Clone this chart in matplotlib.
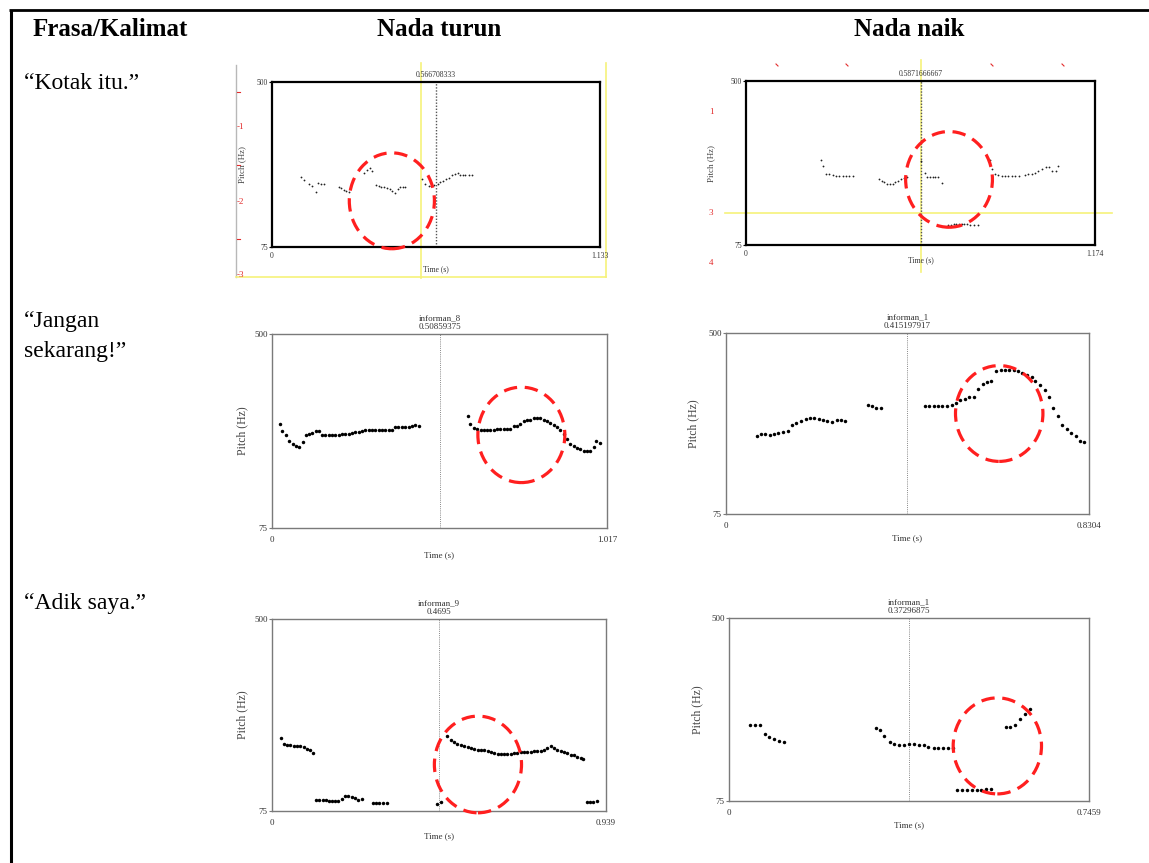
import matplotlib
matplotlib.use("Agg")
import matplotlib.pyplot as plt
from matplotlib.patches import Ellipse

plt.rcParams["font.family"] = ["Liberation Serif", "DejaVu Serif"]

W, H = 1149, 863

# ---- table text ----
headers = ["Frasa/Kalimat", "Nada turun", "Nada naik"]
phrases = [["\u201cKotak itu.\u201d"],
           ["\u201cJangan", "sekarang!\u201d"],
           ["\u201cAdik saya.\u201d"]]

# ---- pitch panels (order: row1 turun, row1 naik, row2 turun, ...) ----
pitch_min, pitch_max = 75, 500
t_max = [1.133, 1.174, 1.017, 0.8304, 0.939, 0.7459]
t_max_labels = ["1.133", "1.174", "1.017", "0.8304", "0.939", "0.7459"]
cursors = [0.566708333, 0.5871666667, 0.50859375, 0.415197917, 0.4695, 0.37296875]
cursor_labels = ["0.566708333", "0.5871666667",
                 "informan_8\n0.50859375", "informan_1\n0.415197917",
                 "informan_9\n0.4695", "informan_1\n0.37296875"]

t1 = [0.100, 0.112, 0.127, 0.139, 0.151, 0.160, 0.170, 0.181,
      0.230, 0.238, 0.247, 0.257, 0.266,
      0.319, 0.328, 0.337, 0.347,
      0.359, 0.368, 0.377, 0.387, 0.397, 0.406, 0.415, 0.426, 0.435, 0.443, 0.452, 0.460,
      0.518, 0.529, 0.541, 0.550, 0.560, 0.572, 0.581, 0.591, 0.602, 0.612, 0.623, 0.633,
      0.641, 0.650, 0.659, 0.668, 0.679, 0.690]
f1 = [256, 247, 238, 231, 217, 240, 238, 238,
      230, 226, 223, 220, 217,
      265, 274, 278, 270,
      234, 231, 230, 229, 226, 224, 220, 213, 224, 229, 230, 230,
      250, 238, 232, 233, 235, 237, 242, 246, 250, 254, 260, 264,
      265, 261, 260, 260, 260, 260]

t2 = [0.251, 0.260, 0.269, 0.280, 0.292, 0.303, 0.314, 0.325, 0.336, 0.348, 0.361,
      0.447, 0.456, 0.465, 0.474, 0.484, 0.493, 0.502, 0.512, 0.521, 0.530, 0.540,
      0.590, 0.601, 0.610, 0.619, 0.628, 0.637, 0.646, 0.659,
      0.681, 0.690, 0.699, 0.708, 0.717, 0.726, 0.734, 0.743, 0.754, 0.767, 0.780,
      0.821, 0.829, 0.838, 0.849, 0.860, 0.871, 0.882, 0.894, 0.905, 0.918, 0.939,
      0.950, 0.961, 0.972, 0.983, 0.995, 1.008, 1.019, 1.030, 1.042, 1.051]
f2 = [295, 279, 260, 258, 256, 255, 254, 253, 253, 253, 253,
      245, 241, 238, 234, 233, 234, 238, 241, 245, 248, 252,
      293, 262, 250, 250, 252, 252, 250, 236,
      128, 128, 129, 129, 129, 129, 129, 129, 128, 128, 128,
      295, 272, 260, 257, 255, 253, 253, 253, 253, 253, 257,
      259, 260, 262, 266, 271, 278, 278, 266, 266, 281]

t3 = [0.023, 0.031, 0.043, 0.053, 0.063, 0.073, 0.083, 0.093, 0.103, 0.112, 0.122,
      0.133, 0.142, 0.152, 0.162, 0.172, 0.182, 0.192, 0.202, 0.212, 0.223, 0.233,
      0.243, 0.253, 0.263, 0.273, 0.283, 0.293, 0.303, 0.314, 0.324, 0.334, 0.344,
      0.354, 0.364, 0.374, 0.384, 0.394, 0.404, 0.415, 0.425, 0.435, 0.445,
      0.594, 0.602, 0.612, 0.622, 0.633, 0.643, 0.653, 0.663, 0.673, 0.683, 0.693,
      0.703, 0.713, 0.724, 0.734, 0.744, 0.754, 0.764, 0.774, 0.784, 0.794, 0.805,
      0.815, 0.825, 0.835, 0.845, 0.855, 0.865, 0.875, 0.886, 0.896, 0.906, 0.916,
      0.926, 0.936, 0.946, 0.956, 0.966, 0.977, 0.985, 0.995]
f3 = [303, 287, 278, 265, 258, 255, 253, 264, 279, 281, 283,
      288, 288, 279, 279, 279, 279, 279, 279, 280, 281, 282,
      284, 285, 286, 288, 289, 289, 289, 289, 289, 289, 289,
      289, 290, 296, 296, 296, 296, 296, 299, 301, 298,
      321, 302, 295, 292, 289, 289, 290, 290, 290, 291, 291,
      291, 291, 291, 299, 299, 303, 309, 311, 312, 315, 317,
      315, 312, 309, 305, 301, 296, 289, 280, 270, 259, 254,
      250, 247, 244, 243, 244, 252, 265, 261]

t4 = [0.070, 0.080, 0.090, 0.101, 0.110, 0.120, 0.131, 0.141, 0.152, 0.161, 0.171,
      0.182, 0.192, 0.202, 0.212, 0.222, 0.232, 0.243, 0.253, 0.263, 0.273,
      0.324, 0.334, 0.344, 0.354,
      0.455, 0.465, 0.475, 0.485, 0.495, 0.505, 0.516, 0.526, 0.536, 0.546,
      0.556, 0.567, 0.577, 0.587, 0.597, 0.607, 0.617, 0.628, 0.638, 0.648,
      0.658, 0.668, 0.678, 0.689, 0.699, 0.708, 0.719, 0.729, 0.739, 0.749,
      0.760, 0.769, 0.779, 0.790, 0.800, 0.810, 0.820]
f4 = [258, 263, 264, 261, 263, 265, 268, 271, 284, 289, 293,
      297, 300, 300, 299, 295, 293, 292, 296, 296, 293,
      332, 329, 324, 325,
      329, 328, 328, 328, 328, 328, 332, 336, 342, 346,
      349, 349, 368, 381, 384, 387, 411, 413, 413, 414,
      413, 410, 405, 401, 396, 388, 379, 367, 350, 323,
      305, 284, 274, 266, 257, 247, 245]

t5 = [0.024, 0.033, 0.042, 0.051, 0.061, 0.070, 0.080, 0.089, 0.098, 0.108, 0.116,
      0.125, 0.133, 0.142, 0.151, 0.160, 0.169, 0.178, 0.186, 0.196, 0.205, 0.214,
      0.224, 0.233, 0.242, 0.253,
      0.284, 0.293, 0.302, 0.312, 0.323,
      0.464, 0.474,
      0.493, 0.503, 0.512, 0.521, 0.531, 0.540, 0.550, 0.559, 0.568, 0.578,
      0.587, 0.596, 0.606, 0.615, 0.624, 0.634, 0.643, 0.653, 0.662, 0.671,
      0.681, 0.690, 0.699, 0.709, 0.718, 0.727, 0.737, 0.746, 0.756, 0.765,
      0.774, 0.784, 0.793, 0.802, 0.812, 0.821, 0.830, 0.840, 0.849, 0.858,
      0.868, 0.875,
      0.885, 0.894, 0.903, 0.913]
f5 = [236, 223, 221, 220, 219, 218, 218, 217, 212, 209, 204,
      99, 99, 99, 99, 98, 97, 97, 97, 102, 108, 108,
      107, 104, 100, 101,
      92, 92, 92, 92, 92,
      91, 96,
      240, 232, 227, 223, 221, 218, 216, 214, 212, 211,
      210, 209, 207, 206, 204, 202, 201, 201, 201, 201,
      203, 204, 205, 206, 206, 206, 207, 207, 207, 210,
      215, 218, 214, 210, 208, 205, 203, 200, 198, 195,
      192, 190,
      95, 96, 96, 98]

t6 = [0.043, 0.054, 0.064, 0.074, 0.083, 0.094, 0.104, 0.114,
      0.304, 0.313, 0.322, 0.333, 0.342, 0.353, 0.363, 0.373, 0.384, 0.393,
      0.404, 0.413, 0.424, 0.433, 0.444, 0.454, 0.464,
      0.473, 0.483, 0.493, 0.503, 0.513, 0.523, 0.533, 0.543,
      0.573, 0.583, 0.593, 0.603, 0.613, 0.623]
f6 = [251, 251, 251, 231, 224, 218, 214, 213,
      244, 240, 227, 212, 207, 205, 206, 207, 207, 206,
      204, 201, 198, 198, 199, 199, 199,
      100, 100, 100, 100, 100, 101, 102, 102,
      247, 247, 251, 266, 277, 288]

times = [t1, t2, t3, t4, t5, t6]
pitches = [f1, f2, f3, f4, f5, f6]

# red dashed circles marking the tone movement (centre, width in s, height in Hz)
circle_t = [0.414, 0.683, 0.757, 0.625, 0.579, 0.556]
circle_f = [194, 245, 279, 311, 178, 203]
circle_w = [0.294, 0.292, 0.264, 0.200, 0.245, 0.183]
circle_h = [247, 248, 209, 225, 214, 223]

# ---- layout (pixels: left, top, right, bottom) ----
frames = [(272, 82, 600, 247), (746, 81, 1095, 245),
          (272, 334, 607, 528), (726, 333, 1089, 514),
          (272, 619, 606, 811), (729, 618, 1089, 801)]
time_label_gap = [22, 15, 27, 24, 25, 24]
pitch_label_gap = [30, 35, 30, 33, 30, 32]

YELLOW = "#f6f27a"
RED = "#e32b2b"

fig = plt.figure(figsize=(W / 100, H / 100), dpi=100)

ov = fig.add_axes([0, 0, 1, 1], zorder=0)
ov.set_xlim(0, W)
ov.set_ylim(H, 0)
ov.axis("off")

# table borders
ov.plot([9, W], [10.5, 10.5], color="black", lw=2, solid_capstyle="butt")
ov.plot([10.5, 10.5], [10, H], color="black", lw=2.2, solid_capstyle="butt")

# header and phrases
hx = [33, 439, 909]
for i, h in enumerate(headers):
    ov.text(hx[i], 36, h, fontsize=18, fontweight="bold",
            ha="left" if i == 0 else "center", va="baseline")
row_base = [89, 327, 609]
for r, lines in enumerate(phrases):
    for k, line in enumerate(lines):
        ov.text(24, row_base[r] + 30 * k, line, fontsize=17, va="baseline")

# screenshot leftovers in the first row (Praat cursor / tier lines)
ov.plot([236, 236], [65, 277], color="#b8b8b8", lw=1)
for y, lab in [(127, "-1"), (202, "-2"), (275, "-3")]:
    ov.text(237, y, lab, color=RED, fontsize=6.5, va="center", ha="left")
for y in [92, 165, 239]:
    ov.plot([237, 240], [y, y], color=RED, lw=0.8)
ov.plot([421, 421], [63, 278], color=YELLOW, lw=1.2)
ov.plot([606, 606], [63, 277], color=YELLOW, lw=1.2)
ov.plot([236, 606], [277, 277], color=YELLOW, lw=1.2)

for y, lab in [(112, "1"), (213, "3"), (263, "4")]:
    ov.text(711, y, lab, color=RED, fontsize=6.5, va="center", ha="center")
for x in [777, 847, 992, 1063]:
    ov.plot([x - 1, x + 1], [64, 66], color=RED, lw=0.8)
ov.plot([921, 921], [60, 272], color=YELLOW, lw=1.2)
ov.plot([725, 1112], [213, 213], color=YELLOW, lw=1.2)

# ---- pitch panels ----
for i, (l, t, r, b) in enumerate(frames):
    first_row = i < 2
    ax = fig.add_axes([l / W, 1 - b / H, (r - l) / W, (b - t) / H], zorder=1)
    ax.set_facecolor("none")
    ax.set_xlim(0, t_max[i])
    ax.set_ylim(pitch_min, pitch_max)

    frame_col = "black" if first_row else "#7a7a7a"
    for s in ax.spines.values():
        s.set_color(frame_col)
        s.set_linewidth(1.6 if first_row else 1.0)

    small = 5.5 if first_row else 6.5
    ax.set_xticks([0, t_max[i]])
    ax.set_xticklabels(["0", t_max_labels[i]])
    ax.set_yticks([pitch_min, pitch_max])
    ax.set_yticklabels([str(pitch_min), str(pitch_max)])
    ax.tick_params(axis="x", length=0, pad=3.5 if first_row else 5.5,
                   labelsize=small, labelcolor="#333333")
    ax.tick_params(axis="y", length=2, pad=1.0, width=0.8, color=frame_col,
                   labelsize=small, labelcolor="#333333")

    ax.set_xlabel("Time (s)", fontsize=small, color="#333333", va="center")
    ax.xaxis.set_label_coords(0.5, -time_label_gap[i] / (b - t))
    ax.set_ylabel("Pitch (Hz)", fontsize=6.5 if first_row else 8.5,
                  color="#444444", va="center")
    ax.yaxis.set_label_coords(-pitch_label_gap[i] / (r - l), 0.5)

    ax.axvline(cursors[i], color="#555555" if first_row else "#888888",
               ls=(0, (1, 1.2)), lw=1.0 if first_row else 0.7)
    ax.annotate(cursor_labels[i], xy=(cursors[i], 1),
                xycoords=("data", "axes fraction"), xytext=(0, 2.5),
                textcoords="offset points", ha="center", va="bottom",
                fontsize=small, color="#333333", linespacing=1.05)

    ax.plot(times[i], pitches[i], ls="none", marker="o",
            ms=1.3 if first_row else 2.5, mew=0,
            color="#222222" if first_row else "black")

    ax.add_patch(Ellipse((circle_t[i], circle_f[i]), circle_w[i], circle_h[i],
                         fill=False, edgecolor="#ff1f1f", lw=2.3,
                         ls=(0, (4.2, 2.4)), clip_on=False, zorder=5))

fig.savefig("out.png", dpi=100)
